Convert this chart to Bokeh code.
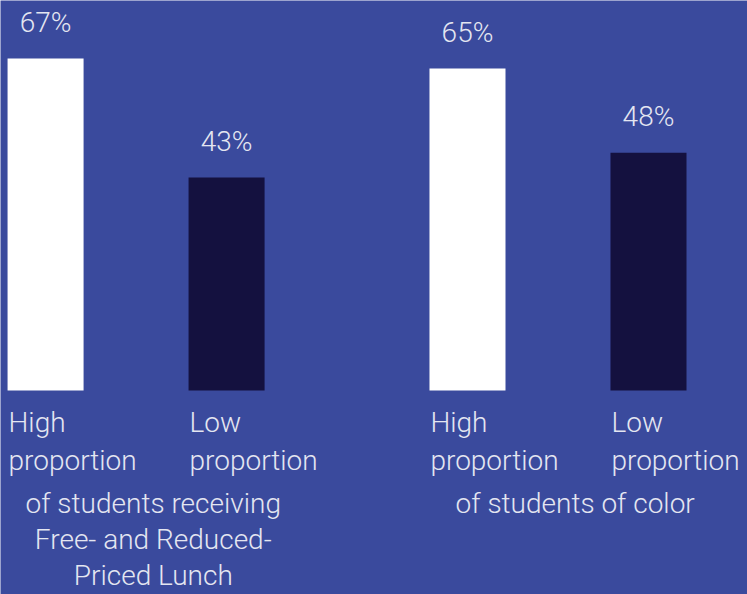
from bokeh.plotting import figure
from bokeh.models import ColumnDataSource, Range1d
from bokeh.core.properties import value
from bokeh.embed import file_html
from bokeh.resources import INLINE

# ---- data ----
group_titles = [
    ["of students receiving", "Free- and Reduced-", "Priced Lunch"],
    ["of students of color"],
]
level_labels = [["High", "proportion"], ["Low", "proportion"]]
values_frl = [67, 43]
values_color = [65, 48]
series = [values_frl, values_color]

# ---- style / layout ----
BG = "#3a4a9d"
BAR_COLORS = ["#ffffff", "#14113f"]
TXT = "#e4e6f1"
FONT = value("Roboto Light")
FS = "28px"
BAR_STEP = 1.0
GROUP_STEP = 2.331
BAR_W = 0.42

bx, btop, bcol, blab = [], [], [], []
lx, ly, ltxt, loff = [], [], [], []
gx, gtxt, goff = [], [], []
for g, vals in enumerate(series):
    for s, v in enumerate(vals):
        xc = g * GROUP_STEP + s * BAR_STEP
        bx.append(xc); btop.append(v); bcol.append(BAR_COLORS[s]); blab.append(f"{v}%")
        for k, line in enumerate(level_labels[s]):
            lx.append(xc - BAR_W / 2); ltxt.append(line); loff.append(32 + 38 * k)
    for k, line in enumerate(group_titles[g]):
        gx.append(g * GROUP_STEP + 0.595); gtxt.append(line); goff.append(113 + 36 * k)

p = figure(width=747, height=594, output_backend="svg", toolbar_location=None,
           x_range=Range1d(-0.249, 3.878), y_range=Range1d(-41.17, 78.7),
           x_axis_type=None, y_axis_type=None, min_border=0)
p.background_fill_color = BG
p.border_fill_color = BG
p.outline_line_color = None
p.grid.visible = False

bars = ColumnDataSource(dict(x=bx, top=btop, color=bcol, label=blab))
p.vbar(x="x", top="top", bottom=0, width=BAR_W, fill_color="color", line_color=None, source=bars)
p.text(x="x", y="top", text="label", source=bars, text_font=FONT, text_font_size=FS,
       text_color=TXT, text_align="center", text_baseline="alphabetic", y_offset=-36)

labs = ColumnDataSource(dict(x=lx, y=[0] * len(lx), text=ltxt, off=loff))
p.text(x="x", y="y", text="text", y_offset="off", x_offset=1, source=labs, text_font=FONT,
       text_font_size=FS, text_color=TXT, text_align="left", text_baseline="alphabetic")

gsrc = ColumnDataSource(dict(x=gx, y=[0] * len(gx), text=gtxt, off=goff))
p.text(x="x", y="y", text="text", y_offset="off", source=gsrc, text_font=FONT,
       text_font_size=FS, text_color=TXT, text_align="center", text_baseline="alphabetic")

open("out.html", "w").write(file_html(p, INLINE))
